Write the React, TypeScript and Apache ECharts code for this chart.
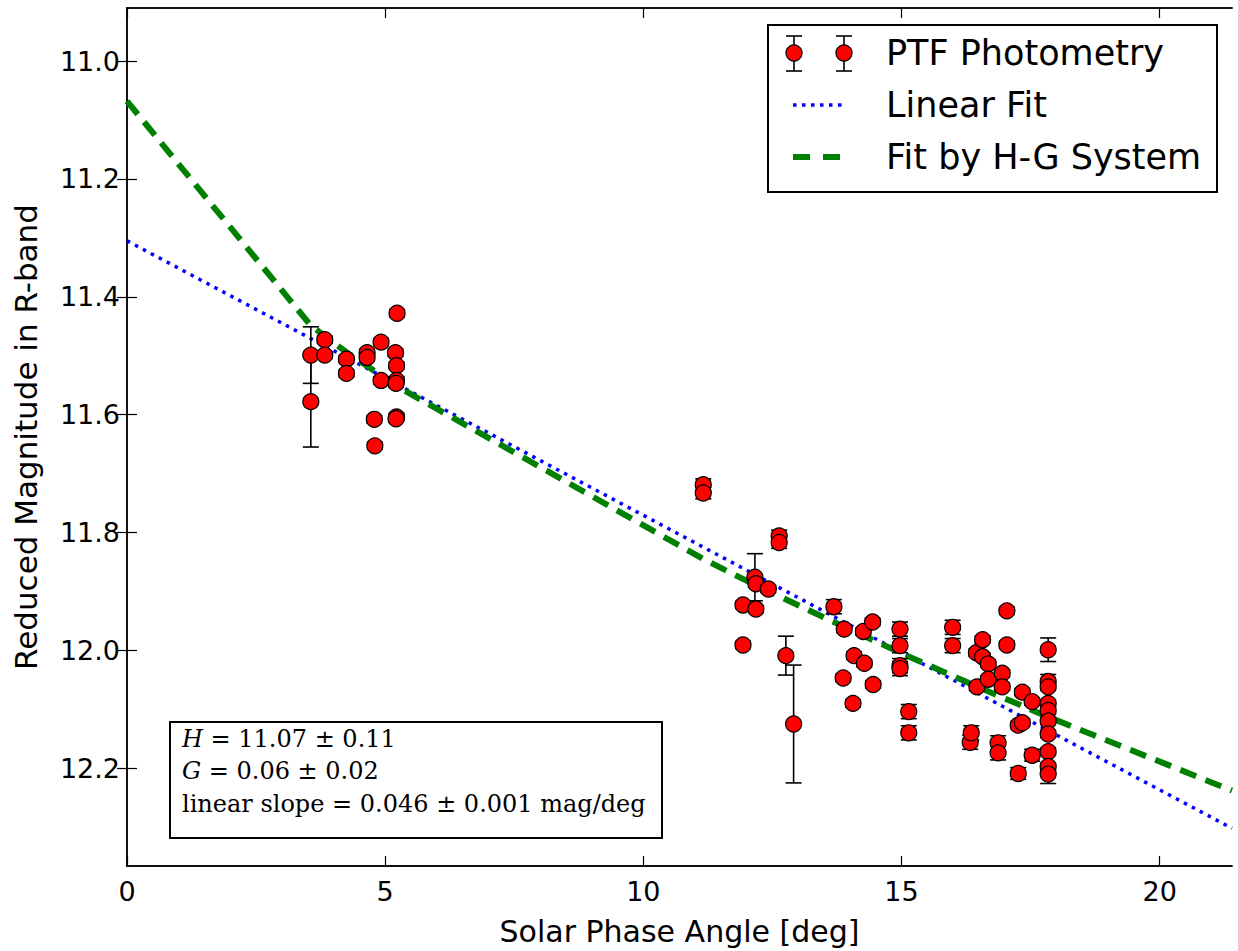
import React, { useEffect, useRef } from "react";
import * as echarts from "echarts";

// PTF photometry: solar phase angle [deg], reduced R magnitude, 1-sigma error
const phaseAngle = [
  3.56, 3.56, 3.83, 3.83, 4.25, 4.25, 4.65, 4.65, 4.79, 4.8, 4.92, 4.92, 5.2, 5.22, 5.22, 5.21, 5.22, 5.21, 5.23,
  11.16, 11.16, 11.93, 11.93, 12.16, 12.18, 12.18, 12.42, 12.63, 12.63, 12.76, 12.91,
  13.69, 13.89, 13.87, 14.06, 14.08, 14.26, 14.28, 14.44, 14.45, 14.97, 14.97, 14.97, 14.97, 15.14, 15.14,
  15.99, 15.99, 16.33, 16.35, 16.45, 16.46, 16.57, 16.57, 16.68, 16.68, 16.87, 16.87, 16.95, 16.95,
  17.04, 17.04, 17.26, 17.26, 17.34, 17.34, 17.53, 17.53,
  17.84, 17.84, 17.84, 17.84, 17.84, 17.84, 17.84, 17.84, 17.84, 17.84,
];
const reducedMag = [
  11.499, 11.578, 11.473, 11.499, 11.506, 11.53, 11.495, 11.503, 11.608, 11.653, 11.477, 11.542, 11.495, 11.517, 11.542, 11.547, 11.604, 11.607, 11.428,
  11.719, 11.733, 11.923, 11.991, 11.876, 11.887, 11.93, 11.896, 11.806, 11.817, 12.009, 12.125,
  11.926, 11.964, 12.047, 12.09, 12.009, 11.968, 12.022, 11.952, 12.058, 11.964, 11.992, 12.026, 12.031, 12.104, 12.14,
  11.961, 11.992, 12.156, 12.14, 12.004, 12.062, 11.982, 12.011, 12.023, 12.049, 12.157, 12.174, 12.039, 12.062,
  11.933, 11.991, 12.127, 12.209, 12.071, 12.123, 12.087, 12.178,
  11.999, 12.053, 12.062, 12.09, 12.102, 12.12, 12.142, 12.172, 12.197, 12.21,
];
const magError = [
  0.048, 0.077, 0.006, 0.006, 0.006, 0.006, 0.006, 0.006, 0.006, 0.006, 0.006, 0.006, 0.006, 0.006, 0.006, 0.006, 0.006, 0.006, 0.006,
  0.01, 0.01, 0.006, 0.006, 0.04, 0.006, 0.006, 0.006, 0.01, 0.01, 0.033, 0.1,
  0.012, 0.006, 0.006, 0.006, 0.006, 0.006, 0.006, 0.006, 0.006, 0.012, 0.012, 0.012, 0.012, 0.012, 0.012,
  0.012, 0.012, 0.012, 0.012, 0.006, 0.006, 0.006, 0.006, 0.006, 0.006, 0.012, 0.012, 0.006, 0.006,
  0.006, 0.006, 0.006, 0.01, 0.006, 0.006, 0.006, 0.01,
  0.02, 0.012, 0.006, 0.006, 0.006, 0.006, 0.006, 0.006, 0.006, 0.016,
];

// Linear fit (read at the two ends of the axis)
const linearAngle = [0, 21.4];
const linearMag = [11.305, 12.302];

// H-G system fit, read at the vertices of the dashed polyline
const hgAngle = [0, 3.56, 4.25, 5.23, 11.16, 12.16, 13.69, 15.0, 16.5, 17.84, 21.4];
const hgMag = [11.068, 11.449, 11.494, 11.552, 11.845, 11.889, 11.952, 12.005, 12.063, 12.113, 12.238];

const xTicks = [0, 5, 10, 15, 20];
const yTicks = [11.0, 11.2, 11.4, 11.6, 11.8, 12.0, 12.2];

const legendLabels = ["PTF Photometry", "Linear Fit", "Fit by H-G System"];
const infoLines = [
  "{i|H} = 11.07 ± 0.11",
  "{i|G} = 0.06 ± 0.02",
  "linear slope = 0.046 ± 0.001 mag/deg",
];

const SANS = "DejaVu Sans";
const SERIF = "DejaVu Serif";

export default function App() {
  const ref = useRef<HTMLDivElement>(null);

  useEffect(() => {
    if (!ref.current) return;
    const chart = echarts.init(ref.current, null, { renderer: "svg" });

    const points = phaseAngle.map((x, i) => [x, reducedMag[i], magError[i]]);
    const linear = linearAngle.map((x, i) => [x, linearMag[i]]);
    const hg = hgAngle.map((x, i) => [x, hgMag[i]]);

    const axisLine = { show: true, lineStyle: { color: "#111", width: 1.8 } };
    const tick = (vals: number[]) => ({
      show: true,
      inside: true,
      length: 10,
      customValues: vals,
      lineStyle: { color: "#000", width: 1.2 },
    });

    // legend drawn as graphic
    const lx = 768, ly = 25, lw = 449, lh = 167;
    const rowY = [53, 105, 157];
    const legendChildren: any[] = [
      { type: "rect", shape: { x: lx, y: ly, width: lw, height: lh }, style: { fill: "#fff", stroke: "#000", lineWidth: 2 } },
    ];
    [794, 844].forEach((cx) => {
      legendChildren.push(
        { type: "line", shape: { x1: cx, y1: 36, x2: cx, y2: 71 }, style: { stroke: "#000", lineWidth: 1.6 } },
        { type: "line", shape: { x1: cx - 8, y1: 36, x2: cx + 8, y2: 36 }, style: { stroke: "#000", lineWidth: 1.6 } },
        { type: "line", shape: { x1: cx - 8, y1: 71, x2: cx + 8, y2: 71 }, style: { stroke: "#000", lineWidth: 1.6 } },
        { type: "circle", shape: { cx, cy: rowY[0], r: 8 }, style: { fill: "#ff0000", stroke: "#000", lineWidth: 1.2 } }
      );
    });
    legendChildren.push(
      { type: "line", shape: { x1: 793, y1: rowY[1], x2: 845, y2: rowY[1] }, style: { stroke: "#0000ff", lineWidth: 3.5, lineDash: [3.5, 5.5] } },
      { type: "line", shape: { x1: 793, y1: rowY[2], x2: 845, y2: rowY[2] }, style: { stroke: "#008000", lineWidth: 6, lineDash: [17, 13] } }
    );
    legendLabels.forEach((t, i) => {
      legendChildren.push({
        type: "text",
        x: 886,
        y: rowY[i],
        style: { text: t, fontSize: 35, fontFamily: SANS, fill: "#000", verticalAlign: "middle", align: "left" },
      });
    });

    // info box
    const infoChildren: any[] = [
      { type: "rect", shape: { x: 170, y: 722, width: 492, height: 116 }, style: { fill: "#fff", stroke: "#000", lineWidth: 2 } },
    ];
    const infoY = [739, 771, 804];
    infoLines.forEach((t, i) => {
      infoChildren.push({
        type: "text",
        x: 182,
        y: infoY[i],
        style: {
          text: t,
          fontSize: 24,
          fontFamily: SERIF,
          fill: "#000",
          verticalAlign: "middle",
          align: "left",
          rich: { i: { fontStyle: "italic", fontSize: 24, fontFamily: SERIF, fill: "#000" } },
        },
      });
    });

    const option: any = {
      animation: false,
      backgroundColor: "#ffffff",
      grid: { left: 127, right: 6, top: 8, bottom: 85, containLabel: false },
      xAxis: [
        {
          type: "value",
          min: 0,
          max: 21.4,
          position: "bottom",
          axisLine,
          axisTick: tick(xTicks),
          axisLabel: {
            customValues: xTicks,
            fontSize: 27,
            fontFamily: SANS,
            color: "#000",
            margin: 12,
          },
          splitLine: { show: false },
          name: "Solar Phase Angle [deg]",
          nameLocation: "middle",
          nameGap: 50,
          nameTextStyle: { fontSize: 30, fontFamily: SANS, color: "#000" },
        },
        {
          type: "value",
          min: 0,
          max: 21.4,
          position: "top",
          axisLine,
          axisTick: tick(xTicks),
          axisLabel: { show: false },
          splitLine: { show: false },
        },
      ],
      yAxis: [
        {
          type: "value",
          inverse: true,
          min: 10.91,
          max: 12.366,
          position: "left",
          axisLine,
          axisTick: tick(yTicks),
          axisLabel: {
            customValues: yTicks,
            formatter: (v: number) => v.toFixed(1),
            fontSize: 27,
            fontFamily: SANS,
            color: "#000",
            margin: 7,
          },
          splitLine: { show: false },
          name: "Reduced Magnitude in R-band",
          nameLocation: "middle",
          nameGap: 86,
          nameRotate: 90,
          nameTextStyle: { fontSize: 31, fontFamily: SANS, color: "#000" },
        },
        {
          type: "value",
          inverse: true,
          min: 10.91,
          max: 12.366,
          position: "right",
          axisLine,
          axisTick: tick(yTicks),
          axisLabel: { show: false },
          splitLine: { show: false },
        },
      ],
      series: [
        {
          type: "line",
          data: linear,
          showSymbol: false,
          symbol: "none",
          lineStyle: { color: "#0000ff", width: 3.5, type: [3.5, 5.5], cap: "butt" },
          z: 2,
          silent: true,
        },
        {
          type: "line",
          data: hg,
          showSymbol: false,
          symbol: "none",
          lineStyle: { color: "#008000", width: 6, type: [17, 10], cap: "butt" },
          z: 2,
          silent: true,
        },
        {
          type: "custom",
          data: points,
          encode: { x: 0, y: 1 },
          silent: true,
          z: 3,
          renderItem: (params: any, api: any) => {
            const x = api.value(0);
            const y = api.value(1);
            const e = api.value(2);
            const a = api.coord([x, y - e]);
            const b = api.coord([x, y + e]);
            const hw = 8;
            const st = { stroke: "#000", lineWidth: 1.6 };
            return {
              type: "group",
              children: [
                { type: "line", shape: { x1: a[0], y1: a[1], x2: b[0], y2: b[1] }, style: st },
                { type: "line", shape: { x1: a[0] - hw, y1: a[1], x2: a[0] + hw, y2: a[1] }, style: st },
                { type: "line", shape: { x1: b[0] - hw, y1: b[1], x2: b[0] + hw, y2: b[1] }, style: st },
              ],
            };
          },
        },
        {
          type: "scatter",
          data: points.map((p) => [p[0], p[1]]),
          symbol: "circle",
          symbolSize: 16,
          itemStyle: { color: "#ff0000", borderColor: "#000", borderWidth: 1.2, opacity: 1 },
          z: 4,
          silent: true,
        },
      ],
      graphic: [
        { type: "group", children: legendChildren, z: 100 },
        { type: "group", children: infoChildren, z: 100 },
      ],
    };

    chart.setOption(option);
    return () => chart.dispose();
  }, []);

  return (
    <div
      ref={ref}
      style={{ position: "absolute", left: 0, top: 0, width: 1238, height: 951, background: "#fff" }}
    />
  );
}
